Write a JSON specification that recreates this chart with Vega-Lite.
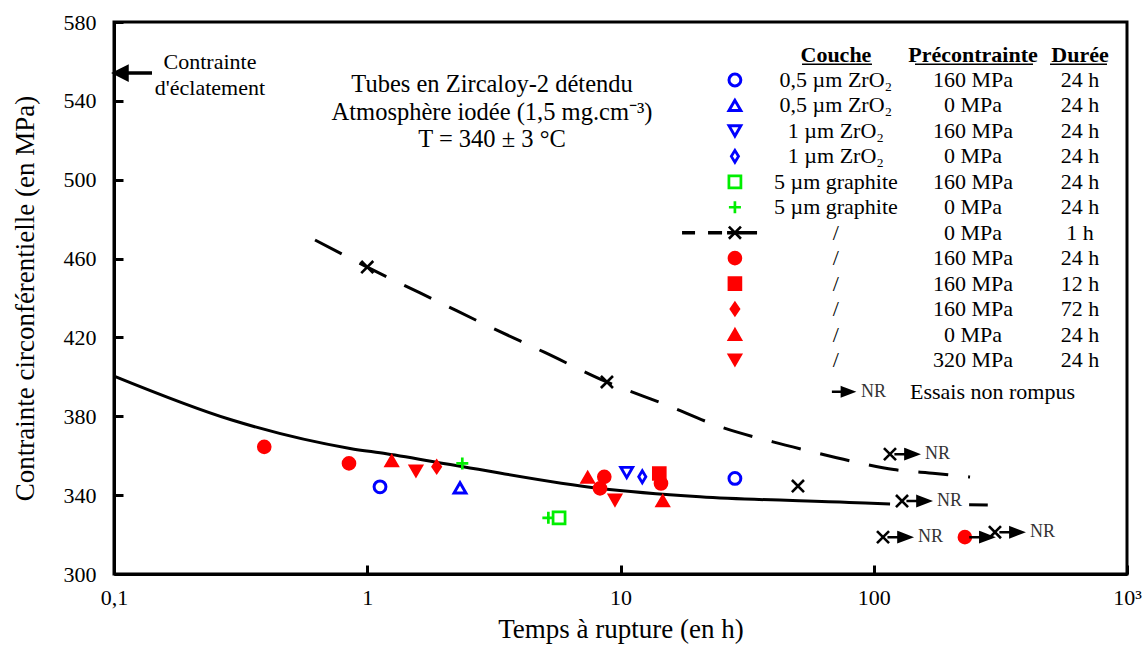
{
  "$schema": "https://vega.github.io/schema/vega-lite/v6.json",
  "width": 1013,
  "height": 552,
  "autosize": {"type": "none"},
  "padding": {"left": 114, "top": 22, "right": 17, "bottom": 74},
  "background": "white",
  "config": {
    "view": {"stroke": "black", "strokeWidth": 3},
    "font": "Liberation Serif",
    "text": {"font": "Liberation Serif", "color": "black"},
    "axis": {
      "labelFont": "Liberation Serif", "titleFont": "Liberation Serif",
      "labelColor": "black", "titleColor": "black", "domainColor": "black", "tickColor": "black",
      "domainWidth": 3, "tickWidth": 3, "tickSize": -9, "grid": false,
      "labelFontSize": 22, "titleFontSize": 27, "titleFontWeight": "normal"
    }
  },
  "datasets": {
    "solid": [
      {"t": 0.1, "mpa": 400.4, "seg": "a"}, {"t": 0.292, "mpa": 378.1, "seg": "a"}, {"t": 0.855, "mpa": 363.7, "seg": "a"},
      {"t": 1.19, "mpa": 361.0, "seg": "a"}, {"t": 2.39, "mpa": 354.4, "seg": "a"}, {"t": 8.3, "mpa": 343.4, "seg": "a"},
      {"t": 20.6, "mpa": 339.2, "seg": "a"}, {"t": 80, "mpa": 336.3, "seg": "a"}, {"t": 116, "mpa": 335.5, "seg": "a"},
      {"t": 238, "mpa": 335.1, "seg": "b"}, {"t": 282, "mpa": 335.0, "seg": "b"}
    ],
    "dashed": [
      {"t": 0.622, "mpa": 469.4}, {"t": 1.0, "mpa": 455.7}, {"t": 2, "mpa": 436.8},
      {"t": 3, "mpa": 425.8}, {"t": 5, "mpa": 412.5}, {"t": 8.84, "mpa": 397.4},
      {"t": 15, "mpa": 386}, {"t": 25, "mpa": 374.5}, {"t": 40, "mpa": 367},
      {"t": 55, "mpa": 362.5}, {"t": 88, "mpa": 356.3}, {"t": 120, "mpa": 353},
      {"t": 175, "mpa": 351}, {"t": 240, "mpa": 349.2}
    ],
    "points": [
      {"t": 0.392, "mpa": 364.5, "serie": "nu_160_24"},
      {"t": 0.847, "mpa": 356.1, "serie": "nu_160_24"},
      {"t": 1.249, "mpa": 357.4, "serie": "nu_0_24"},
      {"t": 1.557, "mpa": 352.3, "serie": "nu_320_24"},
      {"t": 1.88, "mpa": 354.4, "serie": "nu_160_72"},
      {"t": 1.123, "mpa": 344.2, "serie": "zr05_160"},
      {"t": 2.373, "mpa": 356.1, "serie": "gr_0"},
      {"t": 2.324, "mpa": 343.7, "serie": "zr05_0"},
      {"t": 5.19, "mpa": 328.5, "serie": "gr_0"},
      {"t": 5.72, "mpa": 328.5, "serie": "gr_160"},
      {"t": 7.42, "mpa": 349.0, "serie": "nu_0_24"},
      {"t": 14.23, "mpa": 351.0, "serie": "nu_160_12"},
      {"t": 8.63, "mpa": 349.3, "serie": "nu_160_24"},
      {"t": 8.30, "mpa": 343.4, "serie": "nu_160_24"},
      {"t": 9.51, "mpa": 337.5, "serie": "nu_320_24"},
      {"t": 10.58, "mpa": 351.5, "serie": "zr1_160"},
      {"t": 12.19, "mpa": 349.3, "serie": "zr1_0"},
      {"t": 14.45, "mpa": 345.9, "serie": "nu_160_24"},
      {"t": 14.68, "mpa": 337.1, "serie": "nu_0_24"},
      {"t": 28.3, "mpa": 348.5, "serie": "zr05_160"},
      {"t": 1.0, "mpa": 455.7, "serie": "nu_0_1h"},
      {"t": 8.84, "mpa": 397.4, "serie": "nu_0_1h"},
      {"t": 50.2, "mpa": 344.6, "serie": "nu_0_1h"},
      {"t": 115.9, "mpa": 360.8, "serie": "nu_0_1h", "nonRompu": true, "label": "NR"},
      {"t": 129.3, "mpa": 337.0, "serie": "nu_0_1h", "nonRompu": true, "label": "NR"},
      {"t": 108.8, "mpa": 318.7, "serie": "nu_0_1h", "nonRompu": true, "label": "NR"},
      {"t": 229, "mpa": 318.7, "serie": "nu_160_24", "nonRompu": true},
      {"t": 301, "mpa": 321.2, "serie": "nu_0_1h", "nonRompu": true, "label": "NR"}
    ],
    "legend": [
      {"row": 0, "serie": "zr05_160", "couche": "0,5 µm ZrO₂", "pre": "160 MPa", "duree": "24 h"},
      {"row": 1, "serie": "zr05_0", "couche": "0,5 µm ZrO₂", "pre": "0 MPa", "duree": "24 h"},
      {"row": 2, "serie": "zr1_160", "couche": "1 µm ZrO₂", "pre": "160 MPa", "duree": "24 h"},
      {"row": 3, "serie": "zr1_0", "couche": "1 µm ZrO₂", "pre": "0 MPa", "duree": "24 h"},
      {"row": 4, "serie": "gr_160", "couche": "5 µm graphite", "pre": "160 MPa", "duree": "24 h"},
      {"row": 5, "serie": "gr_0", "couche": "5 µm graphite", "pre": "0 MPa", "duree": "24 h"},
      {"row": 6, "serie": "nu_0_1h", "couche": "/", "pre": "0 MPa", "duree": "1 h"},
      {"row": 7, "serie": "nu_160_24", "couche": "/", "pre": "160 MPa", "duree": "24 h"},
      {"row": 8, "serie": "nu_160_12", "couche": "/", "pre": "160 MPa", "duree": "12 h"},
      {"row": 9, "serie": "nu_160_72", "couche": "/", "pre": "160 MPa", "duree": "72 h"},
      {"row": 10, "serie": "nu_0_24", "couche": "/", "pre": "0 MPa", "duree": "24 h"},
      {"row": 11, "serie": "nu_320_24", "couche": "/", "pre": "320 MPa", "duree": "24 h"}
    ],
    "one": [{}]
  },
  "layer": [
    {
      "layer": [
        {
          "data": {"name": "solid"},
          "mark": {"type": "line", "stroke": "black", "strokeWidth": 3, "interpolate": "monotone"},
          "encoding": {
            "x": {
              "field": "t", "type": "quantitative",
              "scale": {"type": "log", "domain": [0.1, 1000], "nice": false},
              "title": "Temps à rupture (en h)",
              "axis": {
                "values": [0.1, 1, 10, 100, 1000],
                "labelExpr": "datum.value < 0.5 ? '0,1' : datum.value > 500 ? '10³' : format(datum.value, 'd')",
                "labelPadding": 22, "titlePadding": 8, "labelFlush": false, "labelOverlap": false
              }
            },
            "y": {
              "field": "mpa", "type": "quantitative",
              "scale": {"domain": [300, 580], "nice": false, "zero": false},
              "title": "Contrainte circonférentielle (en MPa)",
              "axis": {
                "values": [300, 340, 380, 420, 460, 500, 540, 580],
                "labelPadding": 27, "titlePadding": 24, "labelOverlap": false
              }
            },
            "detail": {"field": "seg", "type": "nominal"}
          }
        },
        {
          "data": {"name": "dashed"},
          "mark": {"type": "line", "stroke": "black", "strokeWidth": 3, "strokeDash": [30, 20], "interpolate": "monotone"},
          "encoding": {
            "x": {"field": "t", "type": "quantitative"},
            "y": {"field": "mpa", "type": "quantitative"}
          }
        },
        {
          "data": {"name": "points"},
          "mark": {"type": "point", "opacity": 1, "fillOpacity": 1, "strokeOpacity": 1},
          "encoding": {
            "x": {"field": "t", "type": "quantitative"},
            "y": {"field": "mpa", "type": "quantitative"},
            "shape": {"field": "serie", "type": "nominal", "legend": null, "scale": {
              "domain": ["zr05_160", "zr05_0", "zr1_160", "zr1_0", "gr_160", "gr_0", "nu_0_1h", "nu_160_24", "nu_160_12", "nu_160_72", "nu_0_24", "nu_320_24"],
              "range": ["circle", "triangle-up", "triangle-down", "M0,-1L0.6,0L0,1L-0.6,0Z", "square", "M-1,0L1,0M0,-1L0,1", "M-1,-1L1,1M-1,1L1,-1", "circle", "square", "M0,-1L0.68,0L0,1L-0.68,0Z", "triangle-up", "triangle-down"]}},
            "fill": {"field": "serie", "type": "nominal", "legend": null, "scale": {
              "domain": ["zr05_160", "zr05_0", "zr1_160", "zr1_0", "gr_160", "gr_0", "nu_0_1h", "nu_160_24", "nu_160_12", "nu_160_72", "nu_0_24", "nu_320_24"],
              "range": ["white", "white", "white", "white", "white", "white", "white", "#ff0000", "#ff0000", "#ff0000", "#ff0000", "#ff0000"]}},
            "stroke": {"field": "serie", "type": "nominal", "legend": null, "scale": {
              "domain": ["zr05_160", "zr05_0", "zr1_160", "zr1_0", "gr_160", "gr_0", "nu_0_1h", "nu_160_24", "nu_160_12", "nu_160_72", "nu_0_24", "nu_320_24"],
              "range": ["#0000ff", "#0000ff", "#0000ff", "#0000ff", "#00ee00", "#00ee00", "#000000", "#ff0000", "#ff0000", "#ff0000", "#ff0000", "#ff0000"]}},
            "size": {"field": "serie", "type": "nominal", "legend": null, "scale": {
              "domain": ["zr05_160", "zr05_0", "zr1_160", "zr1_0", "gr_160", "gr_0", "nu_0_1h", "nu_160_24", "nu_160_12", "nu_160_72", "nu_0_24", "nu_320_24"],
              "range": [140, 150, 135, 400, 75, 169, 169, 185, 185, 400, 210, 210]}},
            "strokeWidth": {"field": "serie", "type": "nominal", "legend": null, "scale": {
              "domain": ["zr05_160", "zr05_0", "zr1_160", "zr1_0", "gr_160", "gr_0", "nu_0_1h", "nu_160_24", "nu_160_12", "nu_160_72", "nu_0_24", "nu_320_24"],
              "range": [3, 2.3, 2.3, 2.3, 2.2, 2.2, 3.5, 1, 1, 1, 1, 1]}}
          }
        },
        {
          "data": {"name": "points"},
          "transform": [{"filter": "datum.nonRompu === true"}],
          "mark": {"type": "point", "shape": "M0.4,0L1.5,0M1.4,-0.42L2.5,0L1.4,0.42Z", "size": 484, "fill": "black", "stroke": "black", "strokeWidth": 2.5, "opacity": 1, "filled": true},
          "encoding": {
            "x": {"field": "t", "type": "quantitative"},
            "y": {"field": "mpa", "type": "quantitative"}
          }
        },
        {
          "data": {"name": "points"},
          "transform": [{"filter": "datum.label === 'NR'"}],
          "mark": {"type": "text", "align": "left", "baseline": "middle", "dx": 35, "fontSize": 18, "color": "#333333"},
          "encoding": {
            "x": {"field": "t", "type": "quantitative"},
            "y": {"field": "mpa", "type": "quantitative"},
            "text": {"field": "label"}
          }
        },
        {
          "data": {"name": "one"},
          "mark": {"type": "point", "shape": "M0.1,0L1.3,-0.6L1.3,0.6Z M1.2,0L3.8,0", "size": 400, "fill": "black", "stroke": "black", "strokeWidth": 3.5, "opacity": 1, "filled": true},
          "encoding": {
            "x": {"datum": 0.1, "type": "quantitative"},
            "y": {"datum": 554.1, "type": "quantitative"}
          }
        },
        {
          "data": {"name": "one"},
          "mark": {"type": "text", "text": ["Contrainte", "d'éclatement"], "align": "center", "baseline": "middle", "fontSize": 22, "lineHeight": 26},
          "encoding": {
            "x": {"datum": 0.2393, "type": "quantitative"},
            "y": {"datum": 559.7, "type": "quantitative"}
          }
        },
        {
          "data": {"name": "one"},
          "mark": {"type": "text", "text": ["Tubes en Zircaloy-2 détendu", "Atmosphère iodée (1,5 mg.cm⁻³)", "T = 340 ± 3 °C"], "align": "center", "baseline": "middle", "fontSize": 24.5, "lineHeight": 27.5},
          "encoding": {
            "x": {"datum": 3.11, "type": "quantitative"},
            "y": {"datum": 548.0, "type": "quantitative"}
          }
        }
      ]
    },
    {
      "layer": [
        {
          "data": {"name": "legend"},
          "transform": [{"filter": "datum.row === 6"}],
          "mark": {"type": "rule", "stroke": "black", "strokeWidth": 3.5, "strokeDash": [13, 13, 14, 5, 30]},
          "encoding": {
            "x": {"datum": 17.5, "type": "quantitative"},
            "x2": {"datum": 34.9},
            "y": {"field": "row", "type": "quantitative", "scale": {"domain": [-2.279, 19.41], "reverse": true, "nice": false, "zero": false}, "axis": null}
          }
        },
        {
          "data": {"name": "legend"},
          "mark": {"type": "point", "opacity": 1, "fillOpacity": 1, "strokeOpacity": 1},
          "encoding": {
            "x": {"datum": 28.3, "type": "quantitative"},
            "y": {"field": "row", "type": "quantitative", "scale": {"domain": [-2.279, 19.41], "reverse": true, "nice": false, "zero": false}, "axis": null},
            "shape": {"field": "serie", "type": "nominal", "legend": null},
            "fill": {"field": "serie", "type": "nominal", "legend": null},
            "stroke": {"field": "serie", "type": "nominal", "legend": null},
            "size": {"field": "serie", "type": "nominal", "legend": null},
            "strokeWidth": {"field": "serie", "type": "nominal", "legend": null}
          }
        },
        {
          "data": {"name": "legend"},
          "mark": {"type": "text", "align": "center", "baseline": "middle", "fontSize": 22},
          "encoding": {
            "x": {"datum": 70.9, "type": "quantitative"},
            "y": {"field": "row", "type": "quantitative", "scale": {"domain": [-2.279, 19.41], "reverse": true, "nice": false, "zero": false}, "axis": null},
            "text": {"field": "couche"}
          }
        },
        {
          "data": {"name": "legend"},
          "mark": {"type": "text", "align": "center", "baseline": "middle", "fontSize": 22},
          "encoding": {
            "x": {"datum": 246.5, "type": "quantitative"},
            "y": {"field": "row", "type": "quantitative", "scale": {"domain": [-2.279, 19.41], "reverse": true, "nice": false, "zero": false}, "axis": null},
            "text": {"field": "pre"}
          }
        },
        {
          "data": {"name": "legend"},
          "mark": {"type": "text", "align": "center", "baseline": "middle", "fontSize": 22},
          "encoding": {
            "x": {"datum": 652, "type": "quantitative"},
            "y": {"field": "row", "type": "quantitative", "scale": {"domain": [-2.279, 19.41], "reverse": true, "nice": false, "zero": false}, "axis": null},
            "text": {"field": "duree"}
          }
        },
        {
          "data": {"name": "one"},
          "mark": {"type": "text", "text": "Couche", "align": "center", "baseline": "middle", "fontSize": 22, "fontWeight": "bold"},
          "encoding": {
            "x": {"datum": 70.9, "type": "quantitative"},
            "y": {"datum": -1, "type": "quantitative"}
          }
        },
        {
          "data": {"name": "one"},
          "mark": {"type": "text", "text": "Précontrainte", "align": "center", "baseline": "middle", "fontSize": 22, "fontWeight": "bold"},
          "encoding": {
            "x": {"datum": 246.5, "type": "quantitative"},
            "y": {"datum": -1, "type": "quantitative"}
          }
        },
        {
          "data": {"name": "one"},
          "mark": {"type": "text", "text": "Durée", "align": "center", "baseline": "middle", "fontSize": 22, "fontWeight": "bold"},
          "encoding": {
            "x": {"datum": 652, "type": "quantitative"},
            "y": {"datum": -1, "type": "quantitative"}
          }
        },
        {
          "data": {"name": "one"},
          "mark": {"type": "rule", "stroke": "black", "strokeWidth": 1.5},
          "encoding": {
            "x": {"datum": 52.1, "type": "quantitative"},
            "x2": {"datum": 98.4},
            "y": {"datum": -0.62, "type": "quantitative"}
          }
        },
        {
          "data": {"name": "one"},
          "mark": {"type": "rule", "stroke": "black", "strokeWidth": 1.5},
          "encoding": {
            "x": {"datum": 145.5, "type": "quantitative"},
            "x2": {"datum": 425.5},
            "y": {"datum": -0.62, "type": "quantitative"}
          }
        },
        {
          "data": {"name": "one"},
          "mark": {"type": "rule", "stroke": "black", "strokeWidth": 1.5},
          "encoding": {
            "x": {"datum": 496.6, "type": "quantitative"},
            "x2": {"datum": 833.8},
            "y": {"datum": -0.62, "type": "quantitative"}
          }
        },
        {
          "data": {"name": "one"},
          "mark": {"type": "point", "shape": "M0.4,0L1.5,0M1.4,-0.42L2.5,0L1.4,0.42Z", "size": 400, "fill": "black", "stroke": "black", "strokeWidth": 2.5, "opacity": 1, "filled": true},
          "encoding": {
            "x": {"datum": 65.9, "type": "quantitative"},
            "y": {"datum": 12.25, "type": "quantitative"}
          }
        },
        {
          "data": {"name": "one"},
          "mark": {"type": "text", "text": "NR", "align": "left", "baseline": "middle", "dx": 33, "fontSize": 18, "color": "#333333"},
          "encoding": {
            "x": {"datum": 65.9, "type": "quantitative"},
            "y": {"datum": 12.25, "type": "quantitative"}
          }
        },
        {
          "data": {"name": "one"},
          "mark": {"type": "text", "text": "Essais non rompus", "align": "left", "baseline": "middle", "fontSize": 22},
          "encoding": {
            "x": {"datum": 139, "type": "quantitative"},
            "y": {"datum": 12.25, "type": "quantitative"}
          }
        }
      ]
    }
  ],
  "resolve": {"scale": {"y": "independent"}}
}
